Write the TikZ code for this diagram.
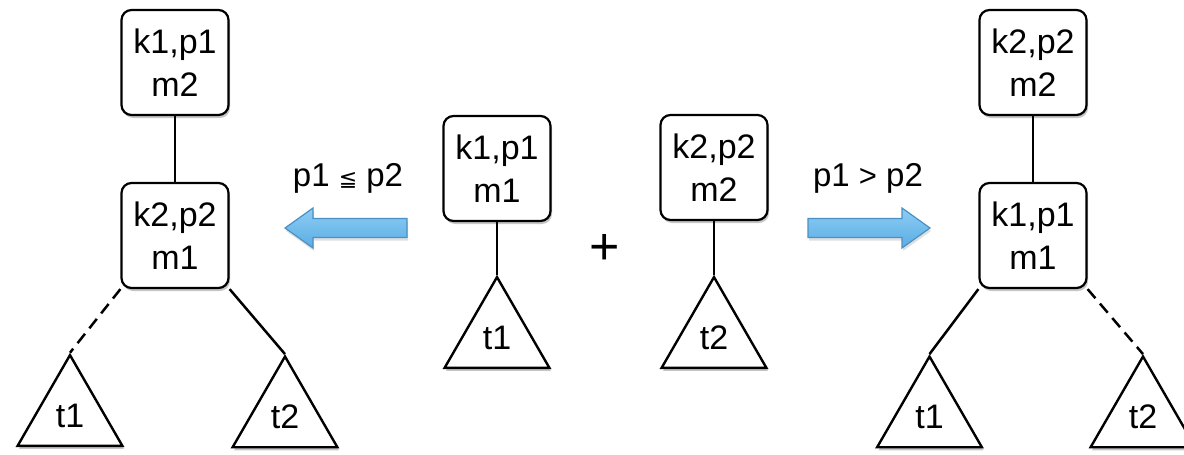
\documentclass[tikz,border=0pt]{standalone}
\usepackage{fontspec}
\setmainfont{Liberation Sans}
\newfontfamily\symfont{DejaVu Sans}
\usetikzlibrary{shapes.geometric,shadows}
\definecolor{arrowtop}{HTML}{8DCDF4}
\definecolor{arrowbot}{HTML}{5AADE4}
\definecolor{arrowborder}{HTML}{4B90C4}
\begin{document}
\begin{tikzpicture}[x=1pt,y=-1pt,
  lbl/.style={font=\fontsize{33}{40}\selectfont, inner sep=0pt},
  keybox/.style={draw, line width=2.2pt, rounded corners=10pt, fill=white,
    minimum width=107pt, minimum height=105pt, inner sep=0pt, align=center,
    font=\fontsize{34}{43}\selectfont,
    drop shadow={shadow xshift=1.5pt, shadow yshift=-3pt, opacity=0.45}},
  subtree/.style={draw, line width=2.4pt, regular polygon, regular polygon sides=3,
    minimum size=121pt, inner sep=0pt, fill=white,
    font=\fontsize{34}{40}\selectfont,
    drop shadow={shadow xshift=1.5pt, shadow yshift=-3pt, opacity=0.45}},
  edge/.style={line width=2.5pt},
  dashedge/.style={line width=2.5pt, dash pattern=on 12pt off 7pt},
  bigarrow/.style={draw=arrowborder, line width=1.2pt, top color=arrowtop, bottom color=arrowbot,
    drop shadow={shadow xshift=1pt, shadow yshift=-3pt, opacity=0.25}}
]
\useasboundingbox (0,0) rectangle (1184,455);

% left tree
\node[keybox] (L1) at (175,62.5) {k1,p1\\m2};
\node[keybox] (L2) at (175,235.5) {k2,p2\\m1};
\node[subtree] (Lt1) at (70,415.6) {t1};
\node[subtree] (Lt2) at (285,417) {t2};
\draw[edge] (L1.south) -- (L2.north);
\draw[dashedge] (L2.south west) -- (Lt1.corner 1);
\draw[edge] (L2.south east) -- (Lt2.corner 1);

% middle
\node[keybox] (M1) at (497,168.5) {k1,p1\\m1};
\node[subtree] (Mt1) at (497,337.6) {t1};
\draw[edge] (M1.south) -- (Mt1.corner 1);
\node[keybox] (M2) at (714,167.5) {k2,p2\\m2};
\node[subtree] (Mt2) at (714,337.6) {t2};
\draw[edge] (M2.south) -- (Mt2.corner 1);
\node[font=\fontsize{52}{52}\selectfont, inner sep=0pt] (plus) at (605,249) {+};

% arrows and conditions
\draw[bigarrow] (407,218.5) -- (313,218.5) -- (313,208) -- (285,228) -- (313,248) -- (313,237.5) -- (407,237.5) -- cycle;
\draw[bigarrow] (808,218.5) -- (902,218.5) -- (902,208) -- (930,228) -- (902,248) -- (902,237.5) -- (808,237.5) -- cycle;
\node[lbl] (condL) at (348,178) {p1 {\symfont\fontsize{22}{22}\selectfont ≦} p2};
\node[lbl] (condR) at (868,178) {p1 {\fontsize{31}{31}\selectfont >} p2};

% right tree
\node[keybox] (R1) at (1033,62.5) {k2,p2\\m2};
\node[keybox] (R2) at (1033,235.5) {k1,p1\\m1};
\node[subtree] (Rt1) at (929.5,417) {t1};
\node[subtree] (Rt2) at (1143,417) {t2};
\draw[edge] (R1.south) -- (R2.north);
\draw[edge] (R2.south west) -- (Rt1.corner 1);
\draw[dashedge] (R2.south east) -- (Rt2.corner 1);
\end{tikzpicture}
\end{document}
